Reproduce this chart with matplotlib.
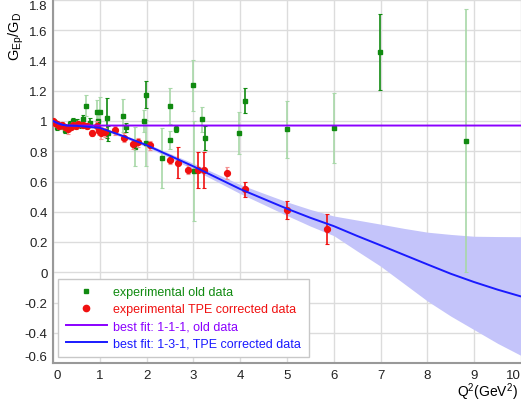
import matplotlib
matplotlib.use("Agg")
import matplotlib.pyplot as plt
from matplotlib.lines import Line2D

plt.rcParams['font.family'] = ['Liberation Sans', 'DejaVu Sans']
plt.rcParams['mathtext.default'] = 'regular'

# ---- data: old (green) experimental points: Q2, value, error, dark-bar flag
old_q2 = [0.02, 0.08, 0.15, 0.26, 0.37, 0.43, 0.52, 0.60, 0.65, 0.71, 0.78, 0.93, 0.97, 1.00,
          1.16, 1.17, 1.50, 1.55, 1.75, 1.94, 1.99, 1.99, 2.32, 2.50, 2.50, 2.63, 3.00, 3.01,
          3.19, 3.24, 3.98, 4.10, 4.99, 6.00, 6.99, 8.83]
old_val = [0.99, 0.96, 0.97, 0.94, 0.98, 1.00, 0.99, 0.975, 1.01, 1.10, 0.99, 1.06, 1.00, 1.06,
           1.02, 0.92, 1.035, 0.96, 0.83, 1.00, 1.175, 0.855, 0.755, 1.10, 0.875, 0.95, 1.235, 0.67,
           1.01, 0.885, 0.92, 1.135, 0.945, 0.955, 1.455, 0.87]
old_err = [0.02, 0.02, 0.02, 0.02, 0.02, 0.02, 0.02, 0.02, 0.03, 0.07, 0.03, 0.08, 0.06, 0.10,
           0.13, 0.05, 0.11, 0.03, 0.13, 0.07, 0.09, 0.15, 0.20, 0.12, 0.06, 0.02, 0.17, 0.33,
           0.08, 0.08, 0.14, 0.08, 0.19, 0.23, 0.25, 0.87]
old_dark = [1, 1, 1, 1, 1, 1, 1, 1, 1, 0, 1, 0, 0, 0,
            1, 1, 0, 1, 0, 0, 1, 0, 0, 0, 0, 1, 0, 0,
            0, 1, 0, 1, 0, 0, 1, 0]

# ---- TPE corrected (red) points
tpe_q2 = [0.0, 0.05, 0.08, 0.12, 0.19, 0.25, 0.33, 0.38, 0.43, 0.50, 0.54, 0.65, 0.72, 0.83,
          0.93, 0.98, 1.02, 1.11, 1.32, 1.52, 1.72, 1.81, 2.07, 2.50, 2.68, 2.89, 3.09, 3.23,
          3.71, 4.10, 5.01, 5.85]
tpe_val = [1.0, 0.985, 0.98, 0.97, 0.975, 0.96, 0.945, 0.96, 0.975, 0.97, 0.98, 0.975, 0.97, 0.92,
           0.97, 0.935, 0.92, 0.925, 0.94, 0.89, 0.845, 0.86, 0.84, 0.745, 0.725, 0.677, 0.675, 0.675,
           0.655, 0.55, 0.41, 0.285]
tpe_err = [0.02, 0.02, 0.02, 0.02, 0.02, 0.02, 0.03, 0.02, 0.02, 0.02, 0.02, 0.02, 0.02, 0.02,
           0.03, 0.03, 0.04, 0.03, 0.03, 0.03, 0.03, 0.03, 0.03, 0.03, 0.10, 0.03, 0.12, 0.12,
           0.04, 0.05, 0.06, 0.10]

# ---- fits
fit_q2 = [0, 0.1, 0.2, 0.3, 0.5, 1.0, 1.5, 2.0, 2.5, 3.0, 3.5, 4.0, 4.5, 5.0, 5.5, 6.0, 6.5,
          7.0, 7.5, 8.0, 8.5, 9.0, 9.5, 10.0]
fit_tpe = [1.0, 0.985, 0.975, 0.97, 0.968, 0.955, 0.90, 0.84, 0.77, 0.70, 0.625, 0.55, 0.485,
           0.42, 0.36, 0.305, 0.24, 0.178, 0.115, 0.052, -0.01, -0.065, -0.115, -0.16]
band_hi = [1.005, 0.99, 0.98, 0.975, 0.974, 0.963, 0.91, 0.852, 0.785, 0.72, 0.65, 0.58, 0.522,
           0.465, 0.415, 0.372, 0.345, 0.318, 0.29, 0.265, 0.25, 0.238, 0.236, 0.235]
band_lo = [0.995, 0.98, 0.97, 0.965, 0.962, 0.947, 0.89, 0.828, 0.755, 0.68, 0.60, 0.52, 0.448,
           0.375, 0.305, 0.242, 0.14, 0.04, -0.075, -0.19, -0.29, -0.38, -0.47, -0.55]
fit_old_q2 = [0, 0.1, 0.2, 0.3, 10.0]
fit_old = [1.0, 0.985, 0.975, 0.97, 0.97]

xticks = [0, 1, 2, 3, 4, 5, 6, 7, 8, 9, 10]
yticks = [-0.6, -0.4, -0.2, 0, 0.2, 0.4, 0.6, 0.8, 1, 1.2, 1.4, 1.6, 1.8]

GREEN = '#108a10'
LGREEN = '#a8d8a8'
RED = '#f01010'
LRED = '#f59090'
BLUE = '#1a1aff'
PURPLE = '#8a00ff'

fig = plt.figure(figsize=(5.21, 4.02), dpi=100)
ax = fig.add_axes([53/521, 38/402, 468/521, 363/402])

ax.fill_between(fit_q2, band_lo, band_hi, color='#c4c4fa', lw=0, zorder=1)

for q, v, e, d in zip(old_q2, old_val, old_err, old_dark):
    ax.errorbar([q], [v], yerr=[e], fmt='none', ecolor=GREEN if d else LGREEN,
                elinewidth=1.2, capsize=1.5, capthick=0.8, zorder=2)
ax.plot(old_q2, old_val, 's', color=GREEN, ms=3.2, mec=GREEN, zorder=3)

for q, v, e in zip(tpe_q2, tpe_val, tpe_err):
    ax.errorbar([q], [v], yerr=[e], fmt='none', ecolor=RED if e >= 0.05 else LRED,
                elinewidth=1.2, capsize=1.5, capthick=0.8, zorder=4)
ax.plot(tpe_q2, tpe_val, 'o', color=RED, ms=4.2, mec=RED, zorder=5)

ax.plot(fit_old_q2, fit_old, color=PURPLE, lw=1.4, zorder=6)
ax.plot(fit_q2, fit_tpe, color=BLUE, lw=1.4, zorder=7)

ax.set_xlim(0, 10.0)
ax.set_ylim(-0.6, 1.8)
ax.set_xticks(xticks)
ax.set_yticks(yticks)
ax.set_xticklabels([str(t) for t in xticks], fontsize=9.5)
ax.set_yticklabels([('%g' % t) for t in yticks], fontsize=9.5)
ax.tick_params(length=0, pad=4, colors='#222222')
xl = ax.get_xticklabels()
xl[0].set_ha('left')
xl[-1].set_ha('right')
yl = ax.get_yticklabels()
yl[0].set_va('bottom')
yl[-1].set_va('top')

ax.grid(True, color='#dcdcdc', lw=1.0)
ax.set_axisbelow(True)
for s in ['top', 'right']:
    ax.spines[s].set_visible(False)
for s in ['left', 'bottom']:
    ax.spines[s].set_color('#999999')
    ax.spines[s].set_linewidth(1.5)

fig.text(0.031, 0.91, r'$G_{Ep}/G_D$', rotation=90, ha='center', va='center', fontsize=10.5)
fig.text(0.994, 0.024, r'Q$^2$(GeV$^2$)', ha='right', va='center', fontsize=10)

handles = [
    Line2D([], [], ls='none', marker='s', color=GREEN, ms=3.2),
    Line2D([], [], ls='none', marker='o', color=RED, ms=4.5),
    Line2D([], [], color=PURPLE, lw=1.4),
    Line2D([], [], color=BLUE, lw=1.4),
]
labels = ['experimental old data', 'experimental TPE corrected data',
          'best fit: 1-1-1, old data', 'best fit: 1-3-1, TPE corrected data']
leg = ax.legend(handles, labels, loc='lower left', bbox_to_anchor=(0.011, 0.017),
                borderaxespad=0, fontsize=9, handlelength=3.3, handletextpad=0.5,
                labelspacing=0.4, borderpad=0.6, fancybox=False, framealpha=1,
                edgecolor='#c8c8c8')
leg.get_frame().set_linewidth(1.0)
for t, c in zip(leg.get_texts(), [GREEN, RED, PURPLE, BLUE]):
    t.set_color(c)
leg.set_zorder(10)

fig.savefig('out.png', dpi=100)
